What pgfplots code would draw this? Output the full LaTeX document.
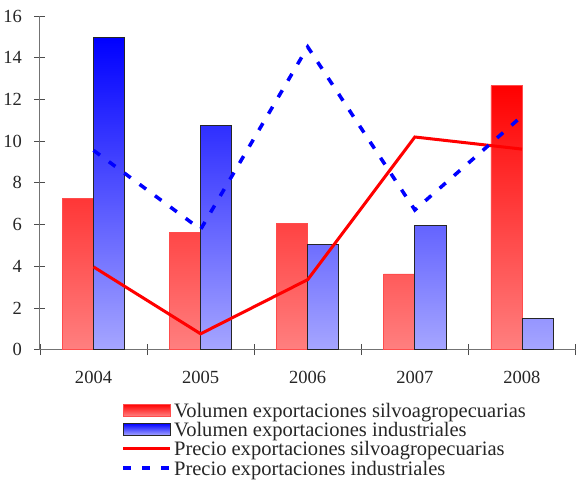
\documentclass[border=0pt]{standalone}
\usepackage{fontspec}
\setmainfont{Liberation Serif}
\usepackage{pgfplots}
\pgfplotsset{compat=1.18}

\pgfplotsset{
    barlegend/.style={legend image code/.code={\draw[##1] (0bp,-5bp) rectangle (47bp,7bp);}},
    linelegend/.style={legend image code/.code={\draw[##1] (0bp,1bp) -- (47bp,1bp);}},
}

\begin{document}
\begin{tikzpicture}
\begin{axis}[
    scale only axis,
    width=533bp, height=332bp,
    xmin=-0.5, xmax=4.5,
    ymin=0, ymax=16,
    ytick={0,2,...,16},
    xtick={0,1,2,3,4},
    xticklabels={2004,2005,2006,2007,2008},
    minor xtick={-0.5,0.5,1.5,2.5,3.5,4.5},
    major x tick style={draw=none},
    axis x line*=bottom,
    axis y line*=left,
    tick align=center,
    major tick length=11bp, minor tick length=11bp,
    tick style={black!70, line width=0.8bp},
    axis line style={black!55, line width=1bp},
    ticklabel style={font=\fontsize{18.5}{20}\selectfont, text=black!85},
    /pgf/number format/assume math mode=true,
    xticklabel style={yshift=-12bp},
    yticklabel style={xshift=-9bp},
    legend cell align=left,
    legend style={draw=none, fill=none, at={(0.146,-0.148)}, anchor=north west,
        font=\fontsize{20.5}{21}\selectfont, row sep=-0.5bp, text=black!85},
    after end axis/.code={\path (rel axis cs:0,1) ++(0,16bp);},
]

% Volumen exportaciones silvoagropecuarias
\addplot[ybar, bar width=31bp, bar shift=-15.5bp, draw=red!70, line width=0.6bp,
    top color=red, bottom color=red!50, barlegend] coordinates {
    (0,7.27) (1,5.63) (2,6.07) (3,3.63) (4,12.67)
};

% Volumen exportaciones industriales
\addplot[ybar, bar width=31bp, bar shift=15.5bp, draw=black!85, line width=0.8bp,
    top color=blue, bottom color=blue!35, barlegend] coordinates {
    (0,14.98) (1,10.75) (2,5.04) (3,5.96) (4,1.49)
};

% Precio exportaciones silvoagropecuarias
\addplot[red, line width=3bp, sharp plot, linelegend] coordinates {
    (0,3.97) (1,0.76) (2,3.36) (3,10.2) (4,9.62)
};

% Precio exportaciones industriales
\addplot[blue, line width=3.5bp, dash pattern=on 8bp off 11bp, sharp plot, linelegend] coordinates {
    (0,9.56) (1,5.77) (2,14.52) (3,6.7) (4,11.2)
};

\legend{Volumen exportaciones silvoagropecuarias,
    Volumen exportaciones industriales,
    Precio exportaciones silvoagropecuarias,
    Precio exportaciones industriales}

\end{axis}
\end{tikzpicture}
\end{document}
